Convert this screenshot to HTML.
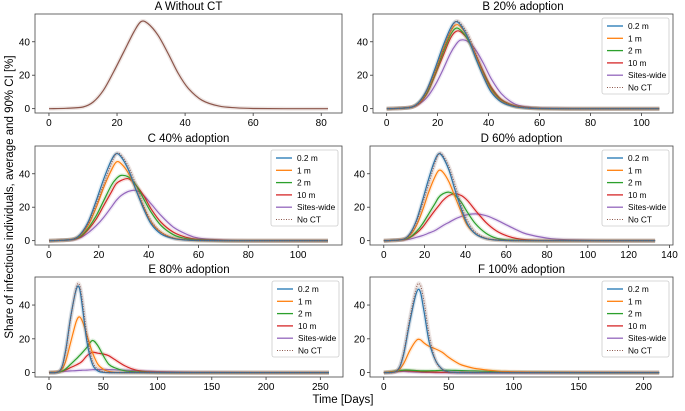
<!DOCTYPE html>
<html><head><meta charset="utf-8"><style>
body{margin:0;background:#fff;}
svg{display:block;font-family:"Liberation Sans","DejaVu Sans",sans-serif;}
</style></head><body>
<svg id="fig" width="685" height="411" viewBox="0 0 685 411" xmlns="http://www.w3.org/2000/svg">
<text transform="translate(13,197) rotate(-90)" text-anchor="middle" font-size="11.5" fill="#000">Share of infectious individuals, average and 90% CI [%]</text>
<text x="343" y="403" text-anchor="middle" font-size="11.5" fill="#000">Time [Days]</text>
</svg>
<script>
const seriesNames = ['0.2 m','1 m','2 m','10 m','Sites-wide','No CT'];
const colors = ['#1f77b4','#ff7f0e','#2ca02c','#d62728','#9467bd','#8c564b'];

const titles = ['A Without CT','B 20% adoption','C 40% adoption','D 60% adoption','E 80% adoption','F 100% adoption'];
const xMaxData = [82,107,112,135,258,212];
const xTickStep = [20,20,20,20,50,50];
const yTicks = [0,20,40];

const xsA = [0,5,10,13,16,19,22,25,27,29,32,35,38,41,45,50,55,60,70,82];
const noCtA = [0,0.2,1,4,11,22,34,46,52,51,44,33,21,12,5,1.5,0.5,0.1,0,0];

const xsB = [0,5,10,13,16,19,22,25,27,29,32,35,38,41,45,50,55,60,70,80,94,107];
const b02 = [0,0.2,1,4.5,12,24,37,48,52,50,42,30,19,10,4,1.2,0.4,0.1,0,0,0,0];
const b1 = [0,0.2,1,4,11,22,35,46,50,49,42,31,20,11,4.5,1.4,0.5,0.1,0,0,0,0];
const b2 = [0,0.2,1,4,10,21,33,44,48,47,41,31,21,12,5,1.5,0.5,0.1,0,0,0,0];
const b10 = [0,0.2,1,3.5,9.5,20,31,42,46,46,41,32,22,13,5.5,1.8,0.6,0.15,0,0,0,0];
const bSites = [0,0.2,1,3,7,14,23,33,38,41,40,35,27,18,9,3,1,0.3,0.1,0,0,0];
const bNoCt = [0,0.2,1,4,11,22,34,46,52,51,44,33,21,12,5,1.5,0.5,0.1,0,0,0,0];

const xsC = [0,5,10,13,16,19,22,25,27,29,32,35,38,41,45,50,55,60,70,80,95,112];
const c02 = [0,0.2,1,4.5,12,24,37,48,52,50,42,30,19,10,4,1.2,0.4,0.1,0,0,0,0];
const c1 = [0,0.2,1,4,10,20,32,42,47,46,40,30,20,11,5,1.5,0.5,0.1,0,0,0,0];
const c2 = [0,0.2,0.9,3,8,15,24,33,37,39,38,33,25,17,9,3.5,1.2,0.4,0,0,0,0];
const c10 = [0,0.2,0.8,2.5,7,13,21,29,34,36,37,33,27,19,11,5,2,0.7,0.1,0,0,0];
const cSites = [0,0.2,0.7,2,5,9,14,20,24,27,29.5,30,27,22,15,8,4,1.5,0.3,0,0,0];
const cNoCt = [0,0.2,1,4,11,22,34,46,52,51,44,33,21,12,5,1.5,0.5,0.1,0,0,0,0];

const xsD = [0,5,10,13,16,19,22,25,27,29,32,35,38,41,45,50,55,60,65,70,80,90,110,133];
const d02 = [0,0.2,1,4.5,12,24,37,48,52,50,42,30,19,10,4,1.2,0.4,0.1,0,0,0,0,0,0];
const d1 = [0,0.2,1,3.5,9,18,29,38,42,41,35,26,17,9,4,1.2,0.4,0.1,0,0,0,0,0,0];
const d2 = [0,0.2,0.8,2.2,5.5,10,16,22,26,28,29,27,23,17,10,4.5,1.5,0.5,0.2,0,0,0,0,0];
const d10 = [0,0.2,0.7,2,4.5,8,13,18,21,24,27,28,27,24,18,11,6,3,1.3,0.5,0,0,0,0];
const dSites = [0,0.2,0.5,1,2,3,4.5,6,7.5,9,11,13,14.5,15.5,16,15,12.5,9.5,6.5,4,1.5,0.5,0,0];
const dNoCt = [0,0.2,1,4,11,22,34,46,52,51,44,33,21,12,5,1.5,0.5,0.1,0,0,0,0,0,0];

const xsE = [0,10,15,20,25,28,31,35,40,45,50,55,60,70,80,90,100,120,150,200,258];
const e02 = [0,1.2,12,33,49,50,38,18,5,1,0.2,0,0,0,0,0,0,0,0,0,0];
const e1 = [0,1,6,18,30,33,30,22,12,5,2,0.7,0.2,0,0,0,0,0,0,0,0];
const e2 = [0,0.5,2,5,8,10,12,15,19,16,10,5,3,1,0.5,0.2,0,0,0,0,0];
const e10 = [0,0.5,1.5,3,4.5,5.5,7,10,12,11.5,11,10,8,4,1.5,0.5,0.2,0,0,0,0];
const eSites = [0,0.5,0.8,1,1.2,1.3,1.4,1.5,1.7,1.8,1.9,1.8,1.7,1.5,1.2,0.9,0.6,0.3,0.1,0,0];
const eNoCt = [0,1,11,32,50,52,42,22,7,2,0.5,0,0,0,0,0,0,0,0,0,0];

const xsF = [0,10,15,20,25,28,31,35,40,45,50,55,60,70,80,90,100,120,150,212];
const f02 = [0,1,10,30,47,48,36,18,7,2,0.5,0.1,0,0,0,0,0,0,0,0];
const f1 = [0,1,5,13,19,19.5,17.5,15.5,14,12,9,6.5,4.5,2.5,1.5,0.8,0.5,0.2,0.1,0];
const f2 = [0,1,1.5,1.5,1.2,1.1,1,1.1,1.2,1.3,1.4,1.3,1.2,1,0.8,0.5,0.3,0.2,0,0];
const f10 = [0,0.8,1.2,1,0.8,0.6,0.5,0.4,0.3,0.2,0.2,0.1,0.1,0,0,0,0,0,0,0];
const fSites = [0,0.5,0.7,0.5,0.3,0.2,0.1,0.1,0,0,0,0,0,0,0,0,0,0,0,0];
const fNoCt = [0,1,11,32,50,52,42,22,7,2,0.5,0,0,0,0,0,0,0,0,0];

const panelXs = [xsA,xsB,xsC,xsD,xsE,xsF];
const panelSeries = [
  [null,null,null,null,null,noCtA],
  [b02,b1,b2,b10,bSites,bNoCt],
  [c02,c1,c2,c10,cSites,cNoCt],
  [d02,d1,d2,d10,dSites,dNoCt],
  [e02,e1,e2,e10,eSites,eNoCt],
  [f02,f1,f2,f10,fSites,fNoCt]
];

const NS='http://www.w3.org/2000/svg';
const svg=document.getElementById('fig');
function mk(tag,attrs,parent){const e=document.createElementNS(NS,tag);for(const k in attrs)e.setAttribute(k,attrs[k]);(parent||svg).appendChild(e);return e;}
const boxes=[[35,342,14,113],[373,673,14,113],[35,342,146,245],[370,673,146,245],[35,343,277,377],[370,673,277,377]];
const yMin=-2.6,yMax=56.6;
function smoothPath(pts){let d='M'+pts[0][0].toFixed(1)+','+pts[0][1].toFixed(1);
  for(let i=0;i<pts.length-1;i++){const p0=pts[Math.max(0,i-1)],p1=pts[i],p2=pts[i+1],p3=pts[Math.min(pts.length-1,i+2)];
    const c1=[p1[0]+(p2[0]-p0[0])/6,p1[1]+(p2[1]-p0[1])/6],c2=[p2[0]-(p3[0]-p1[0])/6,p2[1]-(p3[1]-p1[1])/6];
    d+='C'+c1[0].toFixed(1)+','+c1[1].toFixed(1)+' '+c2[0].toFixed(1)+','+c2[1].toFixed(1)+' '+p2[0].toFixed(1)+','+p2[1].toFixed(1);}
  return d;}
boxes.forEach((b,pi)=>{
  const [l,r,t,bt]=b;const M=xMaxData[pi];const x0=-0.05*M,x1=1.05*M;
  const sx=v=>l+(v-x0)/(x1-x0)*(r-l);const sy=v=>bt-(v-yMin)/(yMax-yMin)*(bt-t);
  const g=mk('g',{});
  
  
  const title=mk('text',{x:(l+r)/2,y:t-4,'text-anchor':'middle','font-size':'11.5',fill:'#000'},g);
  
  
  title.textContent=titles[pi];
  for(let v=0;v<=x1;v+=xTickStep[pi]){const x=sx(v);
    mk('line',{x1:x,x2:x,y1:bt,y2:bt+3,stroke:'#333','stroke-width':0.8},g);
    const tx=mk('text',{x:x,y:bt+13,'text-anchor':'middle','font-size':'10',fill:'#000'},g);
    
    
    tx.textContent=v;}
  yTicks.forEach(v=>{const y=sy(v);
    mk('line',{x1:l-3,x2:l,y1:y,y2:y,stroke:'#333','stroke-width':0.8},g);
    const ty=mk('text',{x:l-5,y:y+3.5,'text-anchor':'end','font-size':'10',fill:'#000'},g);
    
    
    ty.textContent=v;});
  const xs=panelXs[pi];
  const order=[4,3,2,1,0,5];
  order.forEach(si=>{const ys=panelSeries[pi][si];if(!ys)return;
    const pts=xs.map((xv,i)=>[sx(xv),sy(ys[i])]);
    const d=smoothPath(pts);
    const band=mk('path',{d:d,fill:'none',stroke:colors[si],'stroke-opacity':0.15,'stroke-width':4},g);
    
    
    const a={d:d,fill:'none',stroke:colors[si],'stroke-width':1.2};
    if(si===5&&pi>0){a['stroke-dasharray']='1,1.5';a['stroke-width']=1;}
    const p=mk('path',a,g);
    
    });
  mk('rect',{x:l,y:t,width:r-l,height:bt-t,fill:'none',stroke:'#444','stroke-width':0.8},g);
  if(pi>0){
    const lg=mk('g',{},g);
    
    
    mk('rect',{x:r-71,y:t+4,width:67,height:76,rx:2,fill:'#fff',stroke:'#ccc','stroke-width':0.8},lg);
    seriesNames.forEach((n,si)=>{const y=t+12+si*12.3;
      const la={x1:r-66,x2:r-50,y1:y,y2:y,stroke:colors[si],'stroke-width':1.3};
      if(si===5){la['stroke-dasharray']='1,1.5';la['stroke-width']=1;}
      mk('line',la,lg);
      const tx=mk('text',{x:r-45,y:y+3,'font-size':'8.3',fill:'#000'},lg);
      
      
      tx.textContent=n;});
  }
});
</script>
</body></html>
